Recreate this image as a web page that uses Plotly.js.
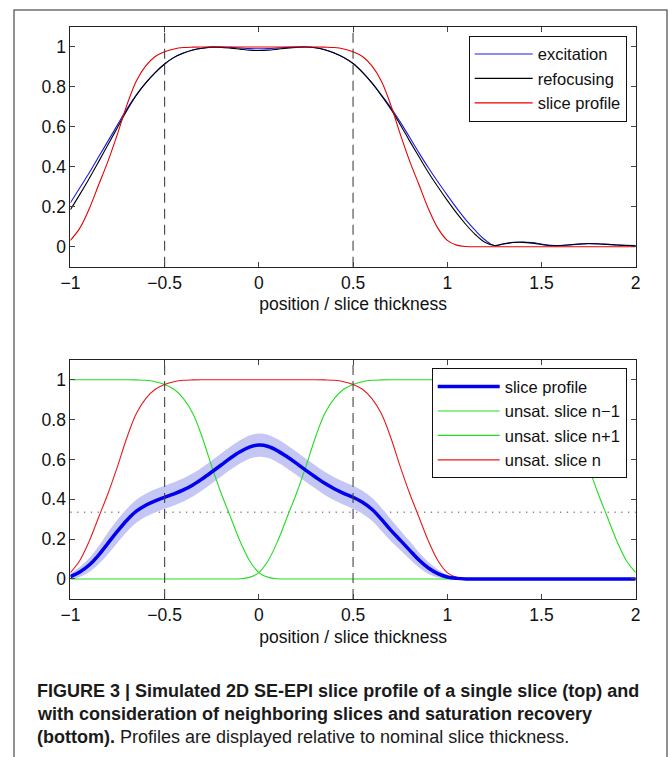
<!DOCTYPE html>
<html>
<head>
<meta charset="utf-8">
<script src="https://cdn.plot.ly/plotly-3.0.1.min.js"></script>
<style>
  html, body { margin: 0; padding: 0; background: #ffffff; }
  #chart { width: 669px; height: 757px; }
</style>
</head>
<body>
<div id="chart"></div>
<script>
// ---- data ----
const positions = [-1.00,-0.95,-0.90,-0.85,-0.80,-0.75,-0.70,-0.65,-0.60,-0.55,-0.50,-0.45,-0.40,-0.35,-0.30,-0.25,-0.20,-0.15,-0.10,-0.05,
  0.00,0.05,0.10,0.15,0.20,0.25,0.30,0.35,0.40,0.45,0.50,0.55,0.60,0.65,0.70,0.75,0.80,0.85,0.90,0.95,
  1.00,1.05,1.10,1.15,1.20,1.25,1.30,1.35,1.40,1.45,1.50,1.55,1.60,1.65,1.70,1.75,1.80,1.85,1.90,1.95,2.00];

// top panel
const excitation = [0.22,0.295,0.37,0.45,0.53,0.61,0.69,0.76,0.82,0.872,0.915,0.948,0.97,0.985,0.994,0.999,1.0,0.998,0.995,0.992,
  0.991,0.992,0.995,0.998,1.0,1.0,0.996,0.986,0.97,0.948,0.918,0.874,0.82,0.76,0.697,0.625,0.548,0.47,0.395,0.325,
  0.258,0.193,0.133,0.08,0.035,0.006,0.014,0.022,0.024,0.021,0.014,0.007,0.005,0.009,0.013,0.015,0.014,0.012,0.009,0.007,0.006];
const refocusing = [0.185,0.262,0.342,0.426,0.512,0.597,0.682,0.758,0.82,0.872,0.915,0.948,0.97,0.985,0.994,0.999,0.998,0.994,0.989,0.984,
  0.982,0.984,0.989,0.994,0.998,1.0,0.996,0.986,0.97,0.947,0.917,0.873,0.82,0.758,0.69,0.612,0.53,0.45,0.372,0.30,
  0.232,0.168,0.11,0.06,0.022,0.006,0.015,0.021,0.022,0.018,0.011,0.005,0.006,0.01,0.014,0.016,0.015,0.012,0.009,0.006,0.005];
const sliceProfileTop = [0.032,0.093,0.19,0.31,0.43,0.565,0.71,0.83,0.905,0.952,0.976,0.99,0.997,0.999,1,1,1,1,1,1,
  1,1,1,1,1,1,1,0.999,0.997,0.99,0.976,0.952,0.905,0.83,0.71,0.565,0.43,0.31,0.19,0.093,
  0.032,0.008,0.001,0,0,0,0,0,0,0,0,0,0,0,0,0,0,0,0,0,0];

// bottom panel
const sliceProfile = [0.012,0.035,0.07,0.12,0.18,0.24,0.295,0.34,0.37,0.392,0.41,0.427,0.447,0.472,0.503,0.537,0.572,0.607,0.638,0.662,
  0.672,0.665,0.643,0.613,0.58,0.545,0.512,0.48,0.453,0.43,0.41,0.385,0.35,0.30,0.245,0.195,0.145,0.095,0.055,0.027,
  0.01,0.003,0,0,0,0,0,0,0,0,0,0,0,0,0,0,0,0,0,0,0];
const profileUpper = [0.027,0.06,0.105,0.165,0.235,0.298,0.353,0.398,0.428,0.45,0.468,0.485,0.505,0.53,0.561,0.595,0.63,0.665,0.696,0.72,
  0.73,0.723,0.701,0.671,0.638,0.603,0.57,0.538,0.511,0.488,0.468,0.443,0.408,0.358,0.30,0.245,0.19,0.133,0.085,0.047,
  0.02,0.006,0,0,0,0,0,0,0,0,0,0,0,0,0,0,0,0,0,0,0];
const profileLower = [-0.003,0.01,0.035,0.075,0.125,0.182,0.237,0.282,0.312,0.334,0.352,0.369,0.389,0.414,0.445,0.479,0.514,0.549,0.58,0.604,
  0.614,0.607,0.585,0.555,0.522,0.487,0.454,0.422,0.395,0.372,0.352,0.327,0.292,0.242,0.19,0.145,0.10,0.057,0.025,0.007,
  0,0,0,0,0,0,0,0,0,0,0,0,0,0,0,0,0,0,0,0,0];
const unsatPrev = [1,1,1,1,1,1,1,0.999,0.997,0.99,0.976,0.952,0.905,0.83,0.71,0.565,0.43,0.31,0.19,0.093,
  0.032,0.008,0.001,0,0,0,0,0,0,0,0,0,0,0,0,0,0,0,0,0,
  0,0,0,0,0,0,0,0,0,0,0,0,0,0,0,0,0,0,0,0,0];
const unsatNext = [0,0,0,0,0,0,0,0,0,0,0,0,0,0,0,0,0,0,0.001,0.008,
  0.032,0.093,0.19,0.31,0.43,0.565,0.71,0.83,0.905,0.952,0.976,0.99,0.997,0.999,1,1,1,1,1,1,
  1,1,1,1,1,1,1,0.999,0.997,0.99,0.976,0.952,0.905,0.83,0.71,0.565,0.43,0.31,0.19,0.093,0.032];
const unsatCurrent = [0.032,0.093,0.19,0.31,0.43,0.565,0.71,0.83,0.905,0.952,0.976,0.99,0.997,0.999,1,1,1,1,1,1,
  1,1,1,1,1,1,1,0.999,0.997,0.99,0.976,0.952,0.905,0.83,0.71,0.565,0.43,0.31,0.19,0.093,
  0.032,0.008,0.001,0,0,0,0,0,0,0,0,0,0,0,0,0,0,0,0,0,0];

const sliceEdges = [-0.5, 0.5];
const saturationLevel = 0.335;
const xTicks = [-1,-0.5,0,0.5,1,1.5,2];
const yTicks = [0,0.2,0.4,0.6,0.8,1];

// ---- figure ----
const W = 669, H = 757;
const px = v => v / W;
const py = v => 1 - v / H;
const FONT = 'Liberation Sans, Arial, Helvetica, sans-serif';

function ln(y, color, width, name, xa, ya, legend, extra) {
  return Object.assign({
    x: positions, y: y, type: 'scatter', mode: 'lines', name: name,
    line: {color: color, width: width, shape: 'spline', smoothing: 1},
    xaxis: xa, yaxis: ya, legend: legend
  }, extra || {});
}

const traces = [
  ln(excitation, '#1a1ae6', 1.1, 'excitation', 'x', 'y', 'legend', {legendrank: 1}),
  ln(refocusing, '#000000', 1.1, 'refocusing', 'x', 'y', 'legend', {legendrank: 2}),
  ln(sliceProfileTop, '#e60000', 1.1, 'slice profile', 'x', 'y', 'legend', {legendrank: 3}),
  // uncertainty band of the bottom slice profile
  ln(profileLower, 'rgba(0,0,0,0)', 0, 'lower', 'x2', 'y2', 'legend2', {showlegend: false}),
  ln(profileUpper, 'rgba(0,0,0,0)', 0, 'upper', 'x2', 'y2', 'legend2', {showlegend: false, fill: 'tonexty', fillcolor: 'rgb(196,198,243)'}),
  ln(unsatPrev, '#22dd22', 1.1, 'unsat. slice n\u22121', 'x2', 'y2', 'legend2', {legendrank: 2}),
  ln(unsatNext, '#22dd22', 1.1, 'unsat. slice n+1', 'x2', 'y2', 'legend2', {legendrank: 3}),
  ln(unsatCurrent, '#e61a1a', 1.1, 'unsat. slice n', 'x2', 'y2', 'legend2', {legendrank: 4}),
  ln(sliceProfile, '#0000ee', 3.5, 'slice profile', 'x2', 'y2', 'legend2', {legendrank: 1})
];

function xAxis(domain, anchor) {
  return {
    domain: domain, anchor: anchor, range: [-1, 2], tickvals: xTicks,
    ticks: 'inside', ticklen: 5, tickcolor: '#444', mirror: 'ticks',
    showline: true, linecolor: '#222', linewidth: 1, showgrid: false, zeroline: false,
    tickfont: {family: FONT, size: 17.5, color: '#111'},
    title: {text: 'position / slice thickness', font: {family: FONT, size: 17.5, color: '#111'}, standoff: 6},
    fixedrange: true
  };
}
function yAxis(domain, anchor) {
  return {
    domain: domain, anchor: anchor, range: [-0.1, 1.1], tickvals: yTicks,
    ticks: 'inside', ticklen: 5, tickcolor: '#444', mirror: 'ticks',
    showline: true, linecolor: '#222', linewidth: 1, showgrid: false, zeroline: false,
    tickfont: {family: FONT, size: 17.5, color: '#111'},
    fixedrange: true
  };
}

const shapes = [];
// outer figure frame
shapes.push({type: 'rect', xref: 'paper', yref: 'paper', x0: px(14), x1: px(667), y0: -0.05, y1: py(10),
  line: {color: '#6e6e6e', width: 1.5}, fillcolor: 'rgba(0,0,0,0)', layer: 'below'});
// dashed slice edges in both panels
[['x', 'y domain'], ['x2', 'y2 domain']].forEach(([xr, yr]) => {
  sliceEdges.forEach(e => {
    shapes.push({type: 'line', xref: xr, yref: yr, x0: e, x1: e, y0: 0, y1: 1,
      line: {color: '#444', width: 1.1, dash: '10px,6px'}, layer: 'above'});
  });
});
// dotted saturation level in bottom panel
shapes.push({type: 'line', xref: 'x2 domain', yref: 'y2', x0: 0, x1: 1, y0: saturationLevel, y1: saturationLevel,
  line: {color: '#888', width: 1.3, dash: '1.3px,5.5px'}, layer: 'below'});

const capFont = {family: FONT, size: 18, color: '#1a1a1a'};
const annotations = [
  {xref: 'paper', yref: 'paper', x: px(35), y: py(691), xanchor: 'left', yanchor: 'middle', showarrow: false, align: 'left',
   text: '<b>FIGURE 3 | Simulated 2D SE-EPI slice profile of a single slice (top) and</b>', font: capFont},
  {xref: 'paper', yref: 'paper', x: px(35), y: py(714), xanchor: 'left', yanchor: 'middle', showarrow: false, align: 'left',
   text: '<b>with consideration of neighboring slices and saturation recovery</b>', font: capFont},
  {xref: 'paper', yref: 'paper', x: px(35), y: py(737), xanchor: 'left', yanchor: 'middle', showarrow: false, align: 'left',
   text: '<b>(bottom).</b> Profiles are displayed relative to nominal slice thickness.', font: capFont}
];

const legendStyle = {
  xanchor: 'right', yanchor: 'top', bgcolor: '#ffffff', bordercolor: '#111', borderwidth: 1,
  font: {family: FONT, size: 16.5, color: '#111'}, tracegroupgap: 0, traceorder: 'normal',
  itemclick: false, itemdoubleclick: false
};

const layout = {
  width: W, height: H,
  margin: {l: 0, r: 0, t: 0, b: 0},
  paper_bgcolor: '#ffffff', plot_bgcolor: '#ffffff',
  font: {family: FONT, size: 17.5, color: '#111'},
  xaxis: xAxis([px(70.4), px(635.7)], 'y'),
  yaxis: yAxis([py(266.7), py(27)], 'x'),
  xaxis2: xAxis([px(70.4), px(635.7)], 'y2'),
  yaxis2: yAxis([py(598.9), py(359.8)], 'x2'),
  legend: Object.assign({x: px(626.7), y: py(35.7), itemwidth: 58}, legendStyle),
  legend2: Object.assign({x: px(626.7), y: py(368.3), itemwidth: 62}, legendStyle),
  shapes: shapes,
  annotations: annotations,
  hovermode: false
};

Plotly.newPlot('chart', traces, layout, {staticPlot: true, displayModeBar: false});
</script>
</body>
</html>
